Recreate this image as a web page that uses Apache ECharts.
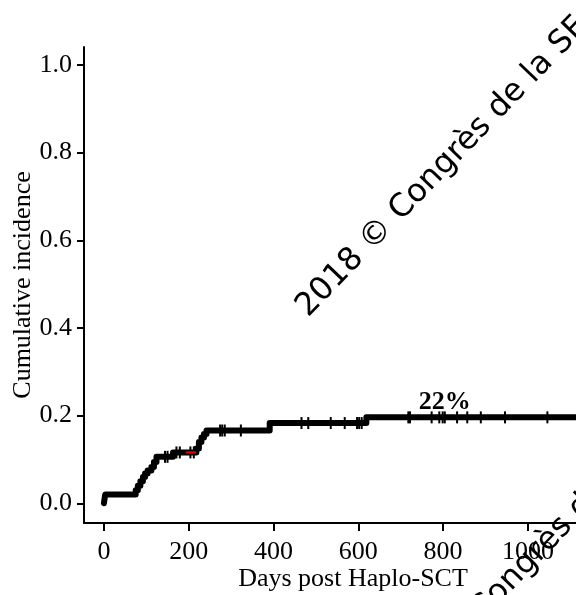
<!DOCTYPE html>
<html>
<head>
<meta charset="utf-8">
<script src="https://cdn.jsdelivr.net/npm/echarts@6/dist/echarts.min.js"></script>
<style>
html,body{margin:0;padding:0;background:#fff;}
#chart{width:576px;height:595px;}
</style>
</head>
<body>
<div id="chart"></div>
<script>
// ---- data ----
const xTickValues = [0, 200, 400, 600, 800, 1000];
const yTickValues = [0, 0.2, 0.4, 0.6, 0.8, 1.0];

// cumulative incidence step function (day, value)
const stepDays = [0, 3, 75, 80, 86, 92, 97, 103, 112, 118, 124, 163, 218, 224, 230, 236, 242, 391, 619, 1175];
const stepCI   = [0, 0.02, 0.03, 0.04, 0.05, 0.06, 0.068, 0.075, 0.083, 0.094, 0.106, 0.116, 0.125, 0.14, 0.15, 0.158, 0.166, 0.183, 0.196, 0.196];

// censoring marks
const censorDays = [144, 150, 171, 179, 204, 212, 274, 279, 285, 323, 466, 482, 535, 568, 597, 602, 608,
                    718, 722, 773, 791, 799, 804, 833, 857, 889, 946, 1046];
const censorCI   = [0.106, 0.106, 0.116, 0.116, 0.116, 0.116, 0.166, 0.166, 0.166, 0.166,
                    0.183, 0.183, 0.183, 0.183, 0.183, 0.183, 0.183,
                    0.196, 0.196, 0.196, 0.196, 0.196, 0.196, 0.196, 0.196, 0.196, 0.196, 0.196];

// second group (red), mostly hidden under black
const redDays = [193, 217];
const redCI   = [0.116, 0.116];

// annotation
const annotDays = [804];
const annotCI   = [0.2295];
const annotText = ['22%'];

const xTitle = 'Days post Haplo-SCT';
const yTitle = 'Cumulative incidence';
const watermark = '2018 © Congrès de la SFGM-TC';

// ---- chart ----
const serif = 'Liberation Serif, Times New Roman, serif';
const chart = echarts.init(document.getElementById('chart'), null, {renderer: 'canvas'});

const zip = (a, b) => a.map((v, i) => [v, b[i]]);

const wmFont = 32;
const wmAngle = 46 * Math.PI / 180;
function wmText(x, y) {
  return {
    type: 'text',
    x: x, y: y,
    rotation: wmAngle,
    z: 100,
    style: {
      text: watermark,
      font: wmFont + 'px "DejaVu Sans"',
      fill: '#000',
      textAlign: 'left',
      textVerticalAlign: 'middle'
    },
    silent: true
  };
}

chart.setOption({
  animation: false,
  backgroundColor: '#fff',
  grid: {left: 84, right: -46, top: 47, bottom: 72, containLabel: false, outerBoundsMode: 'none'},
  xAxis: {
    type: 'value',
    min: -47, max: 1222,
    name: xTitle,
    nameLocation: 'middle',
    nameGap: 43,
    nameMoveOverlap: false,
    nameTextStyle: {fontFamily: serif, fontSize: 26, color: '#000'},
    axisLine: {show: true, onZero: false, lineStyle: {color: '#000', width: 2}},
    axisTick: {show: true, length: 8, lineStyle: {color: '#000', width: 2}, customValues: xTickValues},
    axisLabel: {fontFamily: serif, fontSize: 26, color: '#000', margin: 16,
                customValues: xTickValues, formatter: v => String(v)},
    splitLine: {show: false}
  },
  yAxis: {
    type: 'value',
    min: -0.045, max: 1.041,
    name: yTitle,
    nameLocation: 'middle',
    nameGap: 48,
    nameMoveOverlap: false,
    nameRotate: 90,
    nameTextStyle: {fontFamily: serif, fontSize: 26, color: '#000'},
    axisLine: {show: true, onZero: false, lineStyle: {color: '#000', width: 2}},
    axisTick: {show: true, length: 7, lineStyle: {color: '#000', width: 2}, customValues: yTickValues},
    axisLabel: {fontFamily: serif, fontSize: 26, color: '#000', margin: 12,
                customValues: yTickValues, formatter: v => v.toFixed(1)},
    splitLine: {show: false}
  },
  series: [
    {
      type: 'line',
      step: 'end',
      data: zip(stepDays, stepCI),
      showSymbol: false,
      symbol: 'none',
      lineStyle: {color: '#000', width: 6, cap: 'round', join: 'round'},
      z: 2
    },
    {
      type: 'line',
      data: zip(redDays, redCI),
      symbol: 'none',
      lineStyle: {color: '#e00000', width: 2.2},
      z: 4
    },
    {
      type: 'scatter',
      data: zip(censorDays, censorCI),
      symbol: 'rect',
      symbolSize: [2, 12],
      itemStyle: {color: '#000', opacity: 1},
      z: 3
    },
    {
      type: 'scatter',
      data: zip(annotDays, annotCI).map((d, i) => ({value: d, name: annotText[i]})),
      symbolSize: 0,
      itemStyle: {color: '#000', opacity: 1},
      label: {show: true, position: 'inside', formatter: p => p.name,
              fontFamily: serif, fontWeight: 'bold', fontSize: 26, color: '#000',
              textBorderWidth: 0, textShadowBlur: 0, opacity: 1},
      z: 5
    }
  ],
  graphic: [
    wmText(302, 312),
    wmText(383, 712)
  ]
});
</script>
</body>
</html>
